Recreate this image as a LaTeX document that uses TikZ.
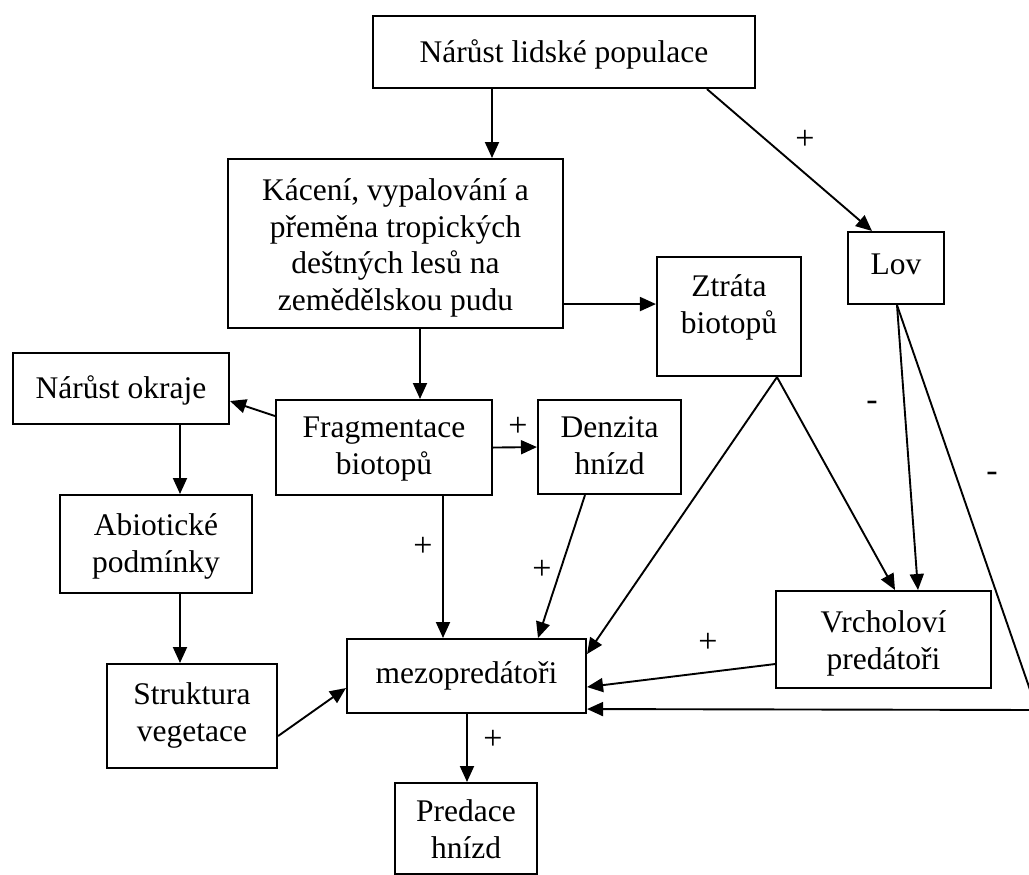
\documentclass[tikz,border=0pt]{standalone}
\usepackage{fontspec}
\setmainfont{Liberation Serif}
\usetikzlibrary{arrows.meta}

\begin{document}
\begin{tikzpicture}[x=1pt,y=-1pt,
	box/.style={draw,line width=2.1pt,anchor=north,align=center,inner xsep=0pt,inner ysep=0pt,font=\fontsize{31.5}{36.5}\selectfont},
	arr/.style={line width=1.9pt,-{Triangle[length=16pt,width=14pt]}},
	sign/.style={font=\fontsize{34}{36}\selectfont}]
\useasboundingbox (0,0) rectangle (1029,875);
\clip (0,0) rectangle (1029,875);
% boxes: placed by top centre, text height = last baseline below top
\node[box,minimum width=382pt,text height=46pt,text depth=26pt] (populace) at (564,15) {Nárůst lidské populace};
\node[box,minimum width=335pt,text height=151pt,text depth=18pt] (kaceni) at (395.5,158) {Kácení, vypalování a\\přeměna tropických\\deštných lesů na\\zemědělskou pudu};
\node[box,minimum width=144pt,text height=76pt,text depth=43pt] (ztrata) at (729,256) {Ztráta\\biotopů};
\node[box,minimum width=96pt,text height=42pt,text depth=30pt] (lov) at (896,231) {Lov};
\node[box,minimum width=216pt,text height=45pt,text depth=26pt] (okraj) at (121,352) {Nárůst okraje};
\node[box,minimum width=216pt,text height=74pt,text depth=21pt] (fragment) at (384,399) {Fragmentace\\biotopů};
\node[box,minimum width=143pt,text height=74pt,text depth=20pt] (denzita) at (609.5,399) {Denzita\\hnízd};
\node[box,minimum width=192pt,text height=77pt,text depth=21pt] (abiotic) at (156,494) {Abiotické\\podmínky};
\node[box,minimum width=215pt,text height=78pt,text depth=19pt] (vrchol) at (883.5,590) {Vrcholoví\\predátoři};
\node[box,minimum width=239pt,text height=44pt,text depth=30pt] (mezo) at (466.5,638) {mezopredátoři};
\node[box,minimum width=170pt,text height=77pt,text depth=27pt] (struktura) at (192,663) {Struktura\\vegetace};
\node[box,minimum width=142pt,text height=75pt,text depth=16pt] (predace) at (466,782) {Predace\\hnízd};
\coordinate (roh) at (1037,710);

% connectors
\draw[arr] ([xshift=-72pt]populace.south) -- ([xshift=96.5pt]kaceni.north);
\draw[arr] ([xshift=143pt]populace.south) -- ([xshift=-24pt]lov.north);
\draw[arr] ([yshift=-60.5pt]kaceni.east) -- ([yshift=12.5pt]ztrata.west);
\draw[arr] ([xshift=24.5pt]kaceni.south) -- ([xshift=36pt]fragment.north);
\draw[arr] ([yshift=31.5pt]fragment.west) -- ([yshift=-12.5pt]okraj.east);
\draw[arr] (fragment.east) -- (denzita.west);
\draw[arr] ([xshift=59pt]okraj.south) -- ([xshift=24pt]abiotic.north);
\draw[arr] ([xshift=24pt]abiotic.south) -- ([xshift=-12pt]struktura.north);
\draw[arr] ([yshift=-20pt]struktura.east) -- ([yshift=-12pt]mezo.west);
\draw[arr] ([xshift=59pt]fragment.south) -- ([xshift=-23.5pt]mezo.north);
\draw[arr] ([xshift=-24.5pt]denzita.south) -- ([xshift=71.5pt]mezo.north);
\draw[arr] ([xshift=48pt]ztrata.south) -- ([yshift=22pt]mezo.east);
\draw[arr] ([xshift=48pt]ztrata.south) -- ([xshift=11.5pt]vrchol.north);
\draw[arr] ([xshift=1pt]lov.south) -- ([xshift=34.5pt]vrchol.north);
\draw[arr] ([xshift=1pt]lov.south) -- (roh) -- ([yshift=-33pt]mezo.east);
\draw[arr] ([yshift=-24.5pt]vrchol.west) -- ([yshift=-11pt]mezo.east);
\draw[arr] ([xshift=0.5pt]mezo.south) -- ([xshift=1pt]predace.north);

% signs
\node[sign] (s1) at (805,140) {+};
\node[sign] (s2) at (518,427) {+};
\node[sign] (s3) at (423,547) {+};
\node[sign] (s4) at (542,570) {+};
\node[sign] (s5) at (708,643) {+};
\node[sign] (s6) at (493,740) {+};
\node[sign] (s7) at (872,406) {-};
\node[sign] (s8) at (992,477) {-};
\end{tikzpicture}
\end{document}
